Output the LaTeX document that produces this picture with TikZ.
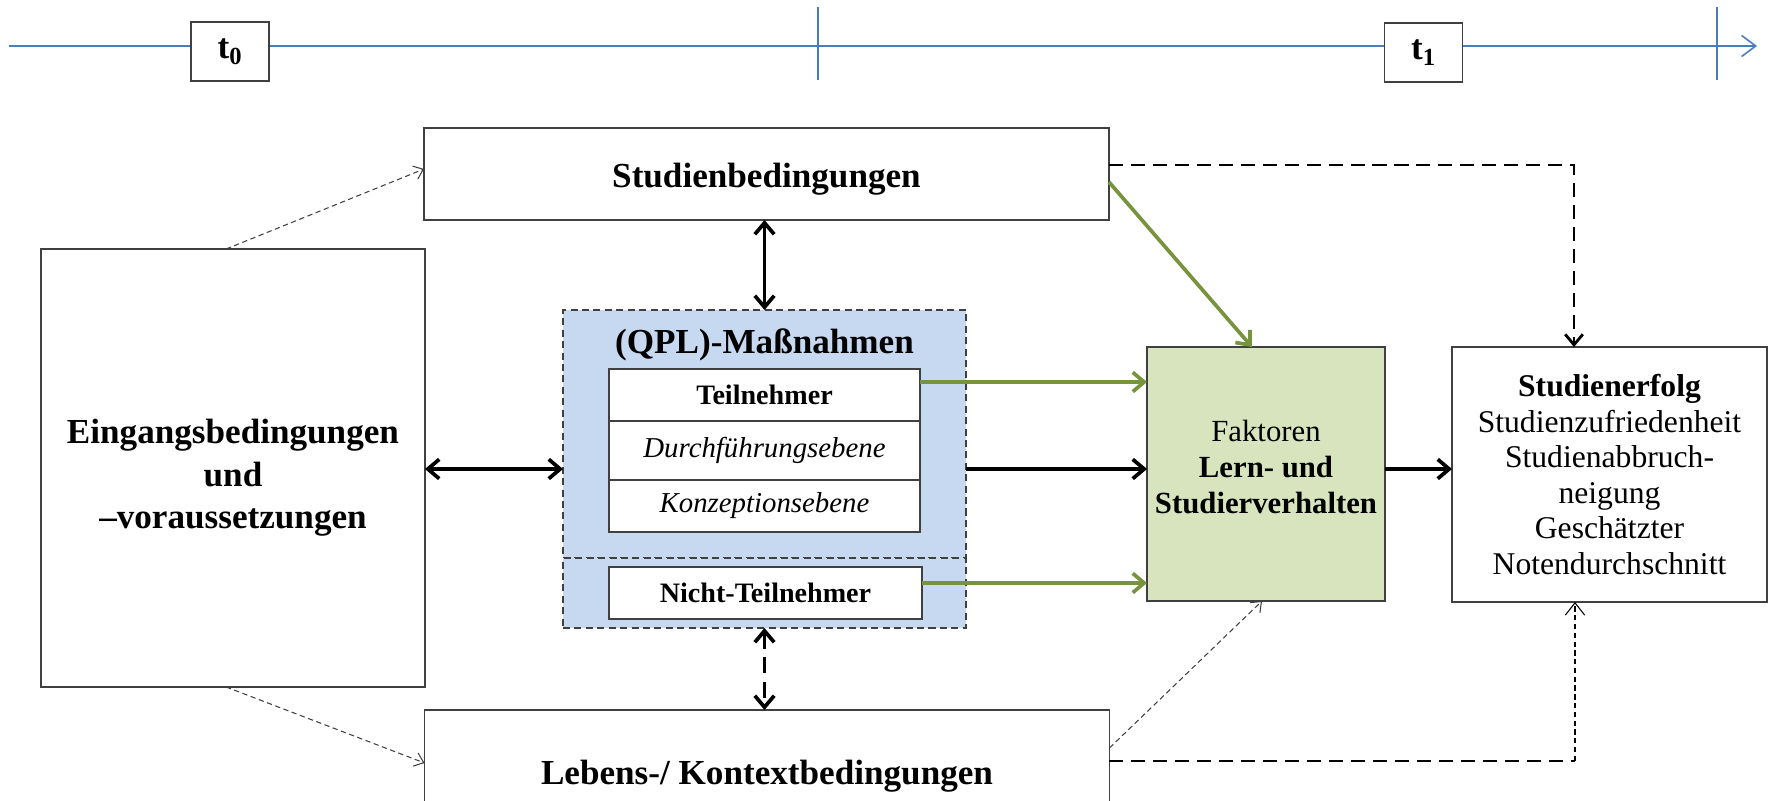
\documentclass[tikz,border=0pt]{standalone}
\usepackage{fontspec}
\setmainfont{Liberation Serif}
\usepackage{tikz}
\usetikzlibrary{positioning, arrows.meta, calc}
\definecolor{Cq}{RGB}{198,217,241}
\definecolor{Cf}{RGB}{215,228,189}
\definecolor{Cg}{RGB}{119,147,60}
\definecolor{Ctl}{RGB}{74,126,187}
\definecolor{Cbdr}{RGB}{64,64,64}
\tikzset{
  B/.style n args={1}{
    draw=Cbdr, fill=#1, line width=0.8pt,
    inner sep=0pt, outer sep=0pt, align=center
  },
  tb/.style={B={white}, minimum width=1.56cm, minimum height=1.18cm,
    font=\fontsize{20}{24}\selectfont\bfseries},
  wide/.style={B={white}, minimum width=13.7cm, minimum height=1.84cm,
    font=\fontsize{20}{24}\selectfont\bfseries},
  row/.style={B={white}, minimum width=6.22cm, minimum height=1.04cm},
  grp/.style={draw=Cbdr, fill=Cq, line width=0.8pt, dash pattern=on 4pt off 2.5pt,
    inner sep=0pt, outer sep=0pt, minimum width=8.06cm},
  ttl/.style={font=\fontsize{20}{24}\selectfont\bfseries},
  tl/.style={-{Straight Barb[length=8pt,width=12pt]}, line width=0.9pt, color=Ctl},
  dbl/.style={{Straight Barb[length=6.5pt,width=11pt]}-{Straight Barb[length=6.5pt,width=11pt]},
    line width=2.1pt, color=black},
  a/.style={-{Straight Barb[length=6.5pt,width=11pt]}, line width=2.1pt, color=black},
  g/.style={-{Straight Barb[length=6.5pt,width=11pt]}, line width=2.1pt, color=Cg},
  dk/.style={line width=1.6pt, color=black, dash pattern=on 8pt off 4.5pt},
  sk/.style={-{Straight Barb[length=5pt,width=8pt]}, line width=0.6pt,
    color=black!75, dash pattern=on 3pt off 2pt}
}

\begin{document}
\begin{tikzpicture}[x=0.02cm, y=-0.02cm]
\useasboundingbox (0,0) rectangle (1769,801);

% ---------------------------------------------------------------
%  Time axis
% ---------------------------------------------------------------
\coordinate (tlA) at (9,46);
\coordinate (tlB) at (1757,46);
\draw[tl] (tlA) -- (tlB);
\draw[tl, -] (818,7) -- (818,80);
\draw[tl, -] (1717,7) -- (1717,80);

\node[tb] (t0) at (230,51.5) {t\textsubscript{0}};
\node[tb] (t1) at (1423.5,52.5) {t\textsubscript{1}};

% ---------------------------------------------------------------
%  Outer boxes
% ---------------------------------------------------------------
\node[wide] (studb) at (766.5,174) {\rule{0pt}{20pt}Studienbedingungen};
\node[wide, minimum height=2.5cm] (lebens) at (767,772.5)
  {\rule{0pt}{18pt}Lebens-/ Kontextbedingungen};

\node[B={white}, minimum width=7.68cm, minimum height=8.76cm,
      font=\fontsize{20}{24.2}\selectfont\bfseries] (eing) at (233,468)
  {\rule{0pt}{25pt}Eingangsbedingungen\\und\\--voraussetzungen};

% ---------------------------------------------------------------
%  (QPL)-Massnahmen
% ---------------------------------------------------------------
\node[grp, minimum height=4.96cm] (qplup)  at (764.5,434) {};
\node[grp, minimum height=1.4cm]  (qpllow) at (764.5,593) {};
\node[ttl] (qplttl) at (764.5,345) {(QPL)-Maßnahmen};

\node[row, font=\fontsize{16}{19}\selectfont\bfseries] (teil) at (764.5,395) {Teilnehmer};
\node[row, minimum height=1.18cm, font=\fontsize{16.4}{19}\selectfont\itshape]
  (durch) at (764.5,450.5) {Durchführungsebene};
\node[row, font=\fontsize{16.4}{19}\selectfont\itshape] (konz) at (764.5,506)
  {Konzeptionsebene};
\node[row, minimum width=6.26cm, font=\fontsize{16}{19}\selectfont\bfseries]
  (nicht) at (765.5,593) {Nicht-Teilnehmer};

% ---------------------------------------------------------------
%  Factors and outcome
% ---------------------------------------------------------------
\node[B={Cf}, minimum width=4.76cm, minimum height=5.08cm,
      font=\fontsize{17.5}{20.4}\selectfont] (fakt) at (1266,474)
  {Faktoren\\\textbf{Lern- und}\\\textbf{Studierverhalten}\rule[-8pt]{0pt}{8pt}};

\node[B={white}, minimum width=6.3cm, minimum height=5.1cm,
      font=\fontsize{18}{20.2}\selectfont] (erfolg) at (1609.5,474.5)
  {\textbf{Studienerfolg}\\Studienzufriedenheit\\Studienabbruch-\\neigung\\
   Geschätzter\\Notendurchschnitt};

% ---------------------------------------------------------------
%  Arrows
% ---------------------------------------------------------------
\draw[dbl] (qplup.north) -- (qplup.north |- studb.south);
\draw[dbl] (eing.east |- 0,469) -- (qplup.west |- 0,469);
\draw[dbl, dash pattern=on 9pt off 5pt] (qpllow.south) -- (qpllow.south |- lebens.north);

\draw[a] (qplup.east |- 0,469) -- (fakt.west |- 0,469);
\draw[a] (fakt.east |- 0,469) -- (erfolg.west |- 0,469);

% green: into the factors
\draw[g] (teil.east |- 0,382) -- (fakt.west |- 0,382);
\draw[g] (nicht.east |- 0,583) -- (fakt.west |- 0,583);
\draw[g] (studb.east |- 0,182) -- ([xshift=-0.28cm]fakt.north);

% dashed: straight on to the outcome
\coordinate (ctop) at (1574,165);
\coordinate (cbot) at (1575,761);
\draw[dk, -{Straight Barb[length=6pt,width=10pt]}]
  (studb.east |- ctop) -- (ctop) -- (ctop |- erfolg.north);
\draw[dk] (lebens.east |- cbot) -- (cbot);
\draw[sk, color=black, -{Straight Barb[length=7pt,width=11pt]}] (cbot) -- (cbot |- erfolg.south);

% thin dashed
\draw[sk] ([xshift=-0.14cm]eing.north) -- ([yshift=0.1cm]studb.west);
\draw[sk] ([xshift=-0.14cm]eing.south) -- ([yshift=0.19cm]lebens.west);
\draw[sk] ([yshift=0.49cm]lebens.east) -- ([xshift=-0.08cm]fakt.south);

\end{tikzpicture}
\end{document}
